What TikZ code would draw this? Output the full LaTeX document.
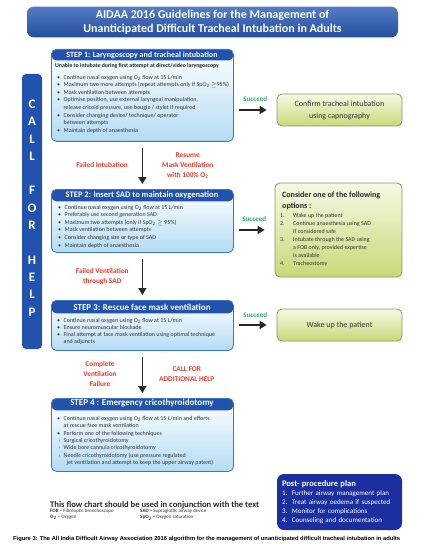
\documentclass[tikz,border=0pt]{standalone}
\usepackage{fontspec}
\setmainfont{Carlito}
\newfontfamily\capfont{Liberation Sans}
\usetikzlibrary{arrows.meta,positioning}
\definecolor{hdblue}{HTML}{2153AE}
\definecolor{titleblue}{HTML}{2A5CB8}
\definecolor{stepedge}{HTML}{3D72C4}
\definecolor{steplight}{HTML}{B3DCF4}
\definecolor{okgreen}{HTML}{2DAA5E}
\definecolor{failred}{HTML}{E63A2C}
\definecolor{boxgreen}{HTML}{C6D978}
\definecolor{boxgreenlight}{HTML}{F7F9E4}
\definecolor{greenedge}{HTML}{8A9860}
\definecolor{ppblue}{HTML}{1C2F9E}
\definecolor{bodytext}{HTML}{353535}
\newcommand{\Otwo}{O\textsubscript{2}}
\newcommand{\SpOtwo}{SpO\textsubscript{2}}
\newcommand{\itm}[1]{\makebox[6.5pt][l]{\textbullet}#1}
\newcommand{\contline}[1]{\hspace*{6.5pt}#1}
\newcommand{\subitm}[1]{\hspace*{1.5pt}\makebox[5pt][l]{›}#1}
\newcommand{\numitm}[2]{\makebox[13pt][l]{#1}#2}
\tikzset{
  stepbox/.style={draw=stepedge, line width=.8pt, rounded corners=5pt,
    top color=white, bottom color=steplight, minimum width=182pt,
    inner sep=0pt, anchor=north west,
    path picture={\fill[hdblue] (path picture bounding box.north west)
      rectangle ([yshift=-#1]path picture bounding box.north east);}},
  stephead/.style={text=white, font=\fontsize{8.5}{10}\selectfont\bfseries, inner sep=0pt},
  steptext/.style={text=bodytext, font=\fontsize{6}{7.6}\selectfont, align=left,
    inner sep=0pt, anchor=north west},
  resultbox/.style={draw=greenedge, line width=.8pt, rounded corners=5pt,
    top color=boxgreenlight, bottom color=boxgreen, text=bodytext,
    font=\fontsize{8}{12}\selectfont, align=center, minimum width=125pt, minimum height=32pt},
  arr/.style={line width=1.5pt, draw=black!85, -{Triangle[length=7pt,width=8pt]},
    shorten <=6pt, shorten >=5pt},
  okarr/.style={arr, shorten <=5pt, shorten >=10pt},
  faillabel/.style={text=failred, font=\fontsize{7.3}{10}\selectfont\bfseries, align=center, inner sep=0pt},
  oklabel/.style={text=okgreen, font=\fontsize{7}{8}\selectfont\bfseries, inner sep=0pt}
}
\begin{document}
\begin{tikzpicture}[x=1pt,y=-1pt]
\fill[white] (0,0) rectangle (436,548);
% title
\node[top color=titleblue!80!white, bottom color=titleblue!85!black, rounded corners=7pt,
  minimum width=371pt, minimum height=30pt, text=white, align=center,
  font=\fontsize{12}{14}\selectfont\bfseries] (title) at (212.5,22)
  {AIDAA 2016 Guidelines for the Management of\\Unanticipated Difficult Tracheal Intubation in Adults};
% call for help
\node[fill=hdblue, rounded corners=4pt, minimum width=20pt, minimum height=275pt] (help) at (32,211.5) {};
\node[text=white, align=center, font=\fontsize{13}{17.3}\selectfont\bfseries] (helptxt) at (32,208)
  {C\\A\\L\\L\\[17.3pt]F\\O\\R\\[17.3pt]H\\E\\L\\P};
% step 1
\node[stepbox=11pt, minimum height=92pt] (s1) at (51,49) {};
\node[stephead, font=\fontsize{8}{10}\selectfont\bfseries] (s1h) at (142,55) {STEP 1: Laryngoscopy and tracheal intubation};
\node[steptext, text=black!85, font=\fontsize{5.8}{7}\selectfont\bfseries] (s1u) at (55,63.5)
  {Unable to intubate during first attempt at direct/video laryngoscopy};
\node[steptext] (s1b) at (57,74.8) {\itm{Continue nasal oxygen using \Otwo{} flow at 15 L/min}\\
  \itm{Maximum two more attempts (repeat attempts only if \SpOtwo{} $\geq$95\%)}\\
  \itm{Mask ventilation between attempts}\\
  \itm{Optimise position, use external laryngeal manipulation,}\\
  \contline{release cricoid pressure, use bougie / stylet if required}\\
  \itm{Consider changing device/ technique/ operator}\\
  \contline{between attempts}\\
  \itm{Maintain depth of anaesthesia}};
% step 2
\node[stepbox=12pt, minimum height=63pt] (s2) at (51,189) {};
\node[stephead] (s2h) at (142,195) {STEP 2: Insert SAD to maintain oxygenation};
\node[steptext] (s2b) at (58,204.8) {\itm{Continue nasal oxygen using \Otwo{} flow at 15 L/min}\\
  \itm{Preferably use second generation SAD}\\
  \itm{Maximum two attempts (only if \SpOtwo{} $\geq$ 95\%)}\\
  \itm{Mask ventilation between attempts}\\
  \itm{Consider changing size or type of SAD}\\
  \itm{Maintain depth of anaesthesia}};
% step 3
\node[stepbox=13pt, minimum height=50pt] (s3) at (51,300) {};
\node[stephead, font=\fontsize{9}{10}\selectfont\bfseries] (s3h) at (142,307) {STEP 3: Rescue face mask ventilation};
\node[steptext, font=\fontsize{6}{7}\selectfont] (s3b) at (57,317.8) {\itm{Continue nasal oxygen using \Otwo{} flow at 15 L/min}\\
  \itm{Ensure neuromuscular blockade}\\
  \itm{Final attempt at face mask ventilation using optimal technique}\\
  \contline{and adjuncts}};
% step 4
\node[stepbox=12pt, minimum height=73pt] (s4) at (51,398) {};
\node[stephead, font=\fontsize{9}{10}\selectfont\bfseries] (s4h) at (142,403.5) {STEP 4 : Emergency cricothyroidotomy};
\node[steptext, font=\fontsize{6}{7.4}\selectfont] (s4b) at (57,416) {\itm{Continue nasal oxygen using \Otwo{} flow at 15 L/min and efforts}\\
  \contline{at rescue face mask ventilation}\\
  \itm{Perform one of the following techniques}\\
  \subitm{Surgical cricothyroidotomy}\\
  \subitm{Wide bore cannula cricothyroidotomy}\\
  \subitm{Needle cricothyroidotomy (use pressure regulated}\\
  \hspace*{9.5pt}jet ventilation and attempt to keep the upper airway patent)};
% results
\node[resultbox] (g1) at (339.5,110) {Confirm tracheal intubation\\using capnography};
\node[resultbox, minimum width=127pt, minimum height=94pt] (g2) at (338.5,230) {};
\node[steptext, text=black!85, font=\fontsize{8}{11}\selectfont\bfseries] (g2t) at (282,192)
  {Consider one of the following\\options :};
\node[steptext, font=\fontsize{6}{8}\selectfont] (g2l) at (280,213) {\numitm{1.}{Wake up the patient}\\
  \numitm{2.}{Continue anaesthesia using SAD}\\
  \numitm{}{If considered safe}\\
  \numitm{3.}{Intubate through the SAD using}\\
  \numitm{}{a FOB only, provided expertise}\\
  \numitm{}{is available}\\
  \numitm{4.}{Tracheostomy}};
\node[resultbox] (g3) at (339.5,325) {Wake up the patient};
% post-procedure plan
\node[fill=ppblue, rounded corners=7pt, minimum width=125pt, minimum height=56pt,
  text=white, text width=115pt, align=left, font=\fontsize{7}{9}\selectfont] (pp) at (339.5,502)
  {{\fontsize{8.5}{9}\selectfont\bfseries Post- procedure plan}\\
  1.~~Further airway management plan\\
  2.~~Treat airway oedema if suspected\\
  3.~~Monitor for complications\\
  4.~~Counseling and documentation};
% arrows down
\draw[arr] (s1.south) -- (s2.north)
  node[midway, left=14pt, faillabel] {Failed Intubation}
  node[midway, right=19pt, faillabel] {Resume\\Mask Ventilation\\with 100\% \Otwo};
\draw[arr] (s2.south) -- (s3.north)
  node[midway, left=13pt, faillabel] {Failed Ventilation\\through SAD};
\draw[arr] (s3.south) -- (s4.north)
  node[midway, left=25pt, faillabel] {Complete\\Ventilation\\Failure}
  node[midway, right=16pt, faillabel] {CALL FOR\\ADDITIONAL HELP};
% arrows right
\draw[okarr] (s1.east |- g1.west) -- (g1.west) node[midway, above=8pt, oklabel] {Succeed};
\draw[okarr] (s2.east |- g2.west) -- (g2.west) node[midway, above=8pt, oklabel] {Succeed};
\draw[okarr] (s3.east |- g3.west) -- (g3.west) node[midway, above=7pt, oklabel] {Succeed};
% notes
\node[anchor=west, inner sep=0pt, text=black!85, font=\fontsize{8.6}{10}\selectfont\bfseries] (note) at (50,505)
  {This flow chart should be used in conjunction with the text};
\node[anchor=west, inner sep=0pt, text=bodytext, font=\fontsize{5}{6}\selectfont] (abfob) at (50,511.5) {\textbf{FOB} = Fibreoptic bronchoscope};
\node[anchor=west, inner sep=0pt, text=bodytext, font=\fontsize{5}{6}\selectfont] (abox) at (50,517.5) {\textbf{\Otwo} = Oxygen};
\node[anchor=west, inner sep=0pt, text=bodytext, font=\fontsize{5}{6}\selectfont] (absad) at (140,511.5) {\textbf{SAD} = Supraglottic airway device};
\node[anchor=west, inner sep=0pt, text=bodytext, font=\fontsize{5}{6}\selectfont] (abspo) at (140,517.5) {\textbf{\SpOtwo} = Oxygen saturation};
\node[anchor=west, inner sep=0pt, font=\capfont\fontsize{5.8}{7}\selectfont\bfseries] (caption) at (13,539)
  {Figure 3: The All India Difficult Airway Association 2016 algorithm for the management of unanticipated difficult tracheal intubation in adults};
\end{tikzpicture}
\end{document}
